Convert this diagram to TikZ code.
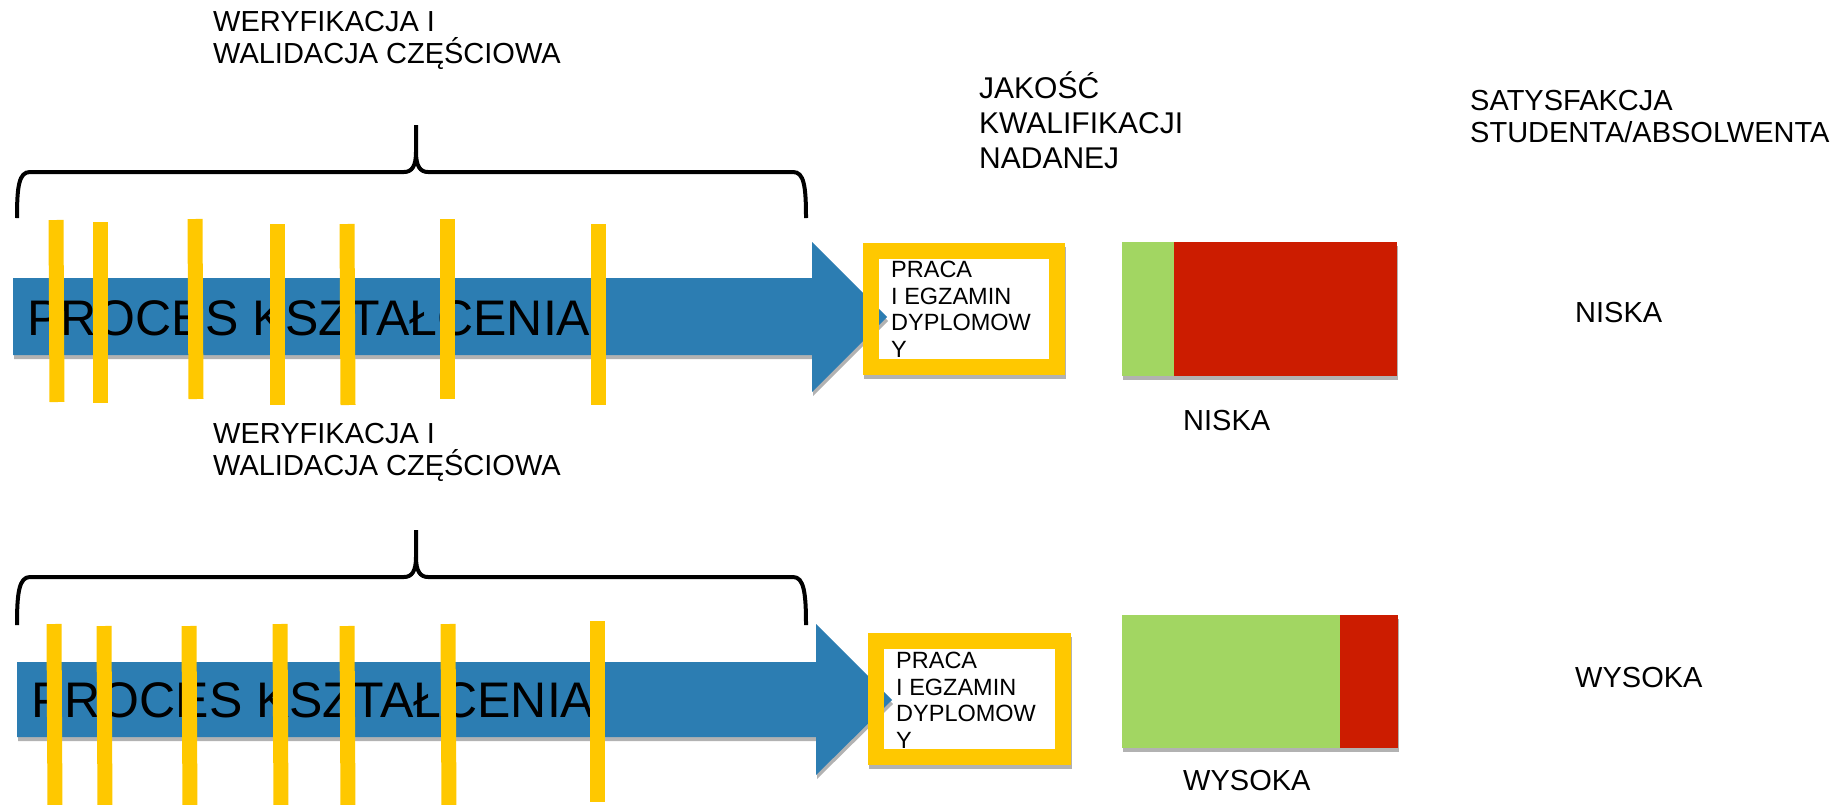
\documentclass[tikz,border=0pt]{standalone}
\usepackage{fontspec}
\setmainfont{Liberation Sans}
\usetikzlibrary{shadows}

\definecolor{procblue}{RGB}{44,125,178}
\definecolor{baryellow}{RGB}{255,200,0}
\definecolor{qgreen}{RGB}{162,214,98}
\definecolor{qred}{RGB}{204,28,0}

\tikzset{
  txt/.style={anchor=base west,inner sep=0pt,align=left,font=\fontsize{29bp}{32bp}\selectfont},
  bigtxt/.style={anchor=base west,inner sep=0pt,font=\fontsize{50bp}{60bp}\selectfont},
  boxtxt/.style={anchor=base west,inner sep=0pt,align=left,font=\fontsize{23.5bp}{26.5bp}\selectfont},
  cien/.style={drop shadow={shadow xshift=1bp,shadow yshift=-4bp,opacity=.3,fill=black}},
  klamra/.style={draw=black,line width=4bp},
  bar/.style={draw=baryellow,line width=15bp},
  ramka/.style={draw=baryellow,line width=16bp}
}

\begin{document}
\begin{tikzpicture}
\useasboundingbox (0bp,0bp) rectangle (1848bp,-805bp);

% gorny wiersz (wezly wielowierszowe: baza = ostatni wiersz)
\node (weryf1) at (213bp,-63bp)[txt] {WERYFIKACJA I\\WALIDACJA CZĘŚCIOWA};
\draw [klamra] (17bp,-218bp) .. controls (17bp,-186bp) and (19bp,-172bp) .. (30bp,-172bp) -- (404bp,-172bp) .. controls (412bp,-172bp) and (416bp,-166bp) .. (416bp,-152bp) -- (416bp,-125bp);
\draw [klamra] (806bp,-218bp) .. controls (806bp,-186bp) and (804bp,-172bp) .. (793bp,-172bp) -- (428bp,-172bp) .. controls (420bp,-172bp) and (416bp,-166bp) .. (416bp,-152bp);
\fill [white,cien] (863bp,-243bp) rectangle (1065bp,-375bp);
\fill [procblue,cien] (13bp,-278bp) -- (812bp,-278bp) -- (812bp,-242bp) -- (887bp,-317bp) -- (812bp,-392bp) -- (812bp,-355bp) -- (13bp,-355bp) -- cycle;
\node (proces1) at (27bp,-335bp)[bigtxt] {PROCES KSZTAŁCENIA};
\draw [bar] (56bp,-220bp) -- (57bp,-402bp);
\draw [bar] (100bp,-222bp) -- (100bp,-403bp);
\draw [bar] (195bp,-219bp) -- (196bp,-399bp);
\draw [bar] (277bp,-224bp) -- (277bp,-405bp);
\draw [bar] (347bp,-224bp) -- (348bp,-405bp);
\draw [bar] (447bp,-219bp) -- (447bp,-399bp);
\draw [bar] (598bp,-224bp) -- (598bp,-405bp);
\node (praca1) at (891bp,-357bp)[boxtxt] {PRACA\\I EGZAMIN\\DYPLOMOW\\Y};
\draw [ramka] (871bp,-251bp) rectangle (1057bp,-367bp);
\node (jakosc) at (979bp,-168bp)[txt,font=\fontsize{30bp}{35bp}\selectfont] {JAKOŚĆ\\KWALIFIKACJI\\NADANEJ};
\node (satysf) at (1470bp,-142bp)[txt] {SATYSFAKCJA\\STUDENTA/ABSOLWENTA};
\fill [qred,cien] (1122bp,-242bp) rectangle (1397bp,-376bp);
\fill [qgreen] (1122bp,-242bp) rectangle (1174bp,-376bp);
\node (niska1) at (1183bp,-430bp)[txt] {NISKA};
\node (niska2) at (1575bp,-322bp)[txt] {NISKA};

% dolny wiersz
\node (weryf2) at (213bp,-475bp)[txt] {WERYFIKACJA I\\WALIDACJA CZĘŚCIOWA};
\draw [klamra] (17bp,-625bp) .. controls (17bp,-593bp) and (19bp,-577bp) .. (30bp,-577bp) -- (404bp,-577bp) .. controls (412bp,-577bp) and (416bp,-571bp) .. (416bp,-557bp) -- (416bp,-530bp);
\draw [klamra] (806bp,-625bp) .. controls (806bp,-593bp) and (804bp,-577bp) .. (793bp,-577bp) -- (428bp,-577bp) .. controls (420bp,-577bp) and (416bp,-571bp) .. (416bp,-557bp);
\fill [white,cien] (868bp,-633bp) rectangle (1071bp,-765bp);
\fill [procblue,cien] (17bp,-662bp) -- (816bp,-662bp) -- (816bp,-624bp) -- (892bp,-700bp) -- (816bp,-775bp) -- (816bp,-737bp) -- (17bp,-737bp) -- cycle;
\node (proces2) at (31bp,-717bp)[bigtxt] {PROCES KSZTAŁCENIA};
\draw [bar] (54bp,-624bp) -- (55bp,-810bp);
\draw [bar] (104bp,-626bp) -- (105bp,-810bp);
\draw [bar] (189bp,-626bp) -- (190bp,-810bp);
\draw [bar] (280bp,-624bp) -- (281bp,-810bp);
\draw [bar] (347bp,-626bp) -- (348bp,-810bp);
\draw [bar] (448bp,-624bp) -- (449bp,-810bp);
\draw [bar] (597bp,-621bp) -- (597bp,-802bp);
\node (praca2) at (896bp,-748bp)[boxtxt] {PRACA\\I EGZAMIN\\DYPLOMOW\\Y};
\draw [ramka] (876bp,-641bp) rectangle (1063bp,-757bp);
\fill [qred,cien] (1122bp,-615bp) rectangle (1398bp,-748bp);
\fill [qgreen] (1122bp,-615bp) rectangle (1340bp,-748bp);
\node (wysoka1) at (1183bp,-790bp)[txt] {WYSOKA};
\node (wysoka2) at (1575bp,-687bp)[txt] {WYSOKA};
\end{tikzpicture}
\end{document}
